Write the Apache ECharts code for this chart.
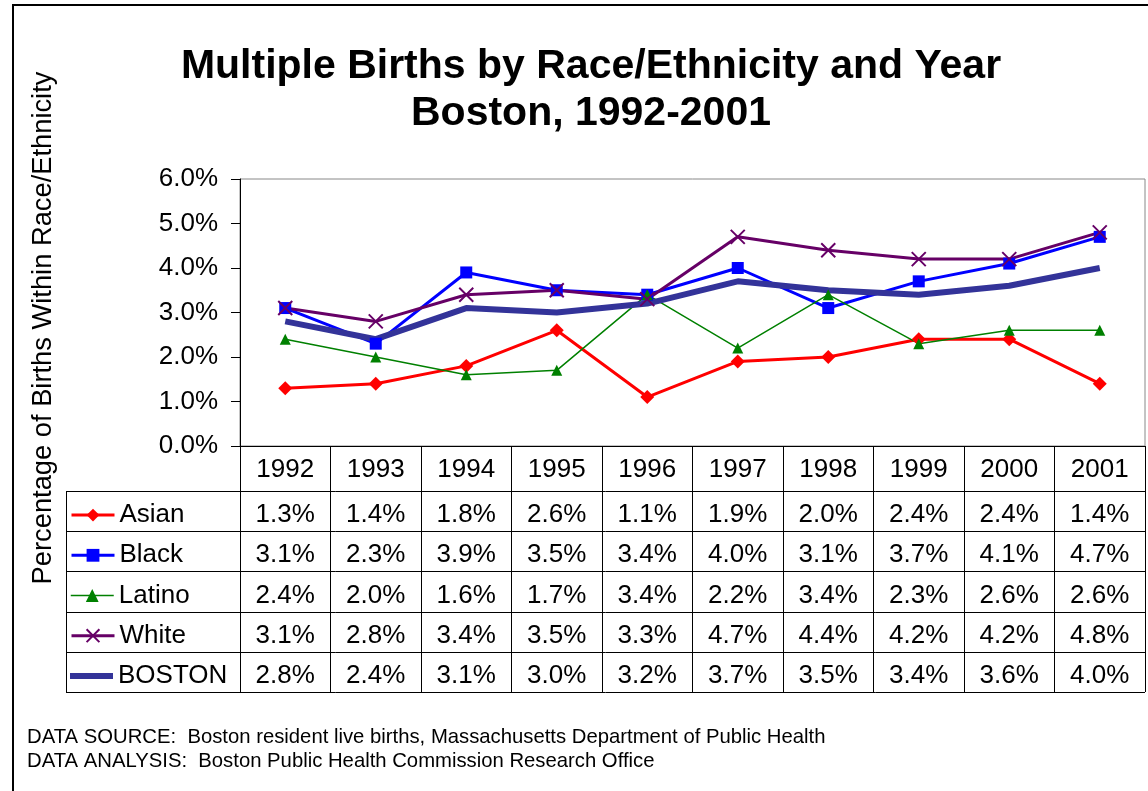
<!DOCTYPE html>
<html>
<head>
<meta charset="utf-8">
<script src="https://cdn.jsdelivr.net/npm/echarts@6/dist/echarts.min.js"></script>
<style>
  html, body { margin: 0; padding: 0; background: #fff; }
  #chart { width: 1148px; height: 791px; }
</style>
</head>
<body>
<div id="chart"></div>
<script>
const years = ['1992', '1993', '1994', '1995', '1996', '1997', '1998', '1999', '2000', '2001'];
const asian = [1.3, 1.4, 1.8, 2.6, 1.1, 1.9, 2.0, 2.4, 2.4, 1.4];
const black = [3.1, 2.3, 3.9, 3.5, 3.4, 4.0, 3.1, 3.7, 4.1, 4.7];
const latino = [2.4, 2.0, 1.6, 1.7, 3.4, 2.2, 3.4, 2.3, 2.6, 2.6];
const white = [3.1, 2.8, 3.4, 3.5, 3.3, 4.7, 4.4, 4.2, 4.2, 4.8];
const boston = [2.8, 2.4, 3.1, 3.0, 3.2, 3.7, 3.5, 3.4, 3.6, 4.0];
const seriesNames = ['Asian', 'Black', 'Latino', 'White', 'BOSTON'];
const yMin = 0, yMax = 6, yStep = 1;

const FONT = '"Liberation Sans", Arial, sans-serif';
const pct = v => v.toFixed(1) + '%';

// grid / table layout
const grid = { left: 240, top: 179, width: 905, height: 267 };
const gridBottom = grid.top + grid.height;
const headerH = 45;
const rowH = 40.2;
const textDrop = 4; // Excel sets the cell text a little below centre
const tableLeft = 66;
const tableRight = grid.left + grid.width;

const chart = echarts.init(document.getElementById('chart'));

const crossPath = 'path://M0,0L10,10M10,0L0,10';

const styles = [
  { color: '#ff0000', width: 3, symbol: 'diamond', size: 14 },
  { color: '#0000ff', width: 3, symbol: 'rect', size: 12 },
  { color: '#008000', width: 1.5, symbol: 'triangle', size: 11 },
  { color: '#660066', width: 3, symbol: crossPath, size: 14 },
  { color: '#333399', width: 6, symbol: 'none', size: 0 },
];
const allData = [asian, black, latino, white, boston];

const series = styles.map((s, i) => ({
  name: seriesNames[i],
  type: 'line',
  data: allData[i],
  symbol: s.symbol,
  symbolSize: s.size,
  showSymbol: s.symbol !== 'none',
  color: s.color,
  lineStyle: { color: s.color, width: s.width },
  itemStyle: {
    color: s.symbol === crossPath ? 'transparent' : s.color,
    borderColor: s.color,
    borderWidth: s.symbol === crossPath ? 2 : 0,
  },
  emphasis: { disabled: true },
  animation: false,
}));

// one legend per table row so each sits in its own cell
const legends = seriesNames.map((name, i) => {
  const s = styles[i];
  const isBoston = s.symbol === 'none';
  return {
    data: [isBoston ? { name: name, icon: 'rect' } : name],
    left: 70,
    top: gridBottom + headerH + rowH * i + rowH / 2 - 13 + textDrop,
    padding: 0,
    itemWidth: 43,
    itemHeight: isBoston ? 6 : 16,
    itemGap: 0,
    selectedMode: false,
    lineStyle: { width: s.width },
    textStyle: { fontSize: 26, fontFamily: FONT, color: '#000', lineHeight: 26 },
  };
});

chart.setOption({
  animation: false,
  backgroundColor: '#fff',
  title: {
    text: 'Multiple Births by Race/Ethnicity and Year\nBoston, 1992-2001',
    left: 591,
    top: 43,
    padding: 0,
    textAlign: 'center',
    textStyle: { fontSize: 41, fontWeight: 'bold', fontFamily: FONT, color: '#000', lineHeight: 47 },
  },
  legend: legends,
  grid: {
    left: grid.left, top: grid.top, width: grid.width, height: grid.height,
    show: true, borderColor: '#888', borderWidth: 1,
  },
  xAxis: {
    type: 'category',
    data: years,
    boundaryGap: true,
    axisLine: { lineStyle: { color: '#000', width: 1 } },
    axisTick: { show: true, length: headerH + rowH * 5, lineStyle: { color: '#000' } },
    axisLabel: { fontSize: 26, fontFamily: FONT, color: '#000', margin: 11 },
    splitLine: { show: false },
  },
  yAxis: {
    type: 'value',
    min: yMin, max: yMax, interval: yStep,
    axisLine: { show: true, lineStyle: { color: '#000', width: 1 } },
    axisTick: { show: true, length: 9, lineStyle: { color: '#000' } },
    axisLabel: { fontSize: 26, fontFamily: FONT, color: '#000', margin: 22, formatter: v => pct(v) },
    splitLine: { show: false },
  },
  series: series,
});

// data table, footnotes, axis title and frame
const graphics = [];

graphics.push({
  type: 'rect', silent: true,
  shape: { x: 13, y: 5, width: 1200, height: 900 },
  style: { fill: 'none', stroke: '#000', lineWidth: 2 },
});

for (let r = 0; r <= 5; r++) {
  const y = Math.round(gridBottom + headerH + rowH * r) + 0.5;
  graphics.push({
    type: 'line', silent: true,
    shape: { x1: tableLeft, y1: y, x2: tableRight, y2: y },
    style: { stroke: '#000', lineWidth: 1 },
  });
}
graphics.push({
  type: 'line', silent: true,
  shape: { x1: tableLeft + 0.5, y1: gridBottom + headerH, x2: tableLeft + 0.5, y2: gridBottom + headerH + rowH * 5 },
  style: { stroke: '#000', lineWidth: 1 },
});

allData.forEach((arr, r) => {
  const cy = gridBottom + headerH + rowH * r + rowH / 2 + textDrop;
  arr.forEach((v, i) => {
    const cx = chart.convertToPixel({ xAxisIndex: 0 }, years[i]);
    graphics.push({
      type: 'text', silent: true,
      x: cx, y: cy,
      style: { text: pct(v), fontSize: 26, fontFamily: FONT, fill: '#000', align: 'center', verticalAlign: 'middle' },
    });
  });
});

graphics.push({
  type: 'text', silent: true,
  x: 43, y: 328, rotation: Math.PI / 2,
  style: {
    text: 'Percentage of Births Within Race/Ethnicity',
    fontSize: 27.3, fontFamily: FONT, fill: '#000', align: 'center', verticalAlign: 'middle',
  },
});

graphics.push({
  type: 'text', silent: true, x: 27, y: 737,
  style: { text: 'DATA SOURCE:  Boston resident live births, Massachusetts Department of Public Health', fontSize: 20.3, fontFamily: FONT, fill: '#000', verticalAlign: 'middle' },
});
graphics.push({
  type: 'text', silent: true, x: 27, y: 761,
  style: { text: 'DATA ANALYSIS:  Boston Public Health Commission Research Office', fontSize: 20.3, fontFamily: FONT, fill: '#000', verticalAlign: 'middle' },
});

chart.setOption({ graphic: graphics });
</script>
</body>
</html>
